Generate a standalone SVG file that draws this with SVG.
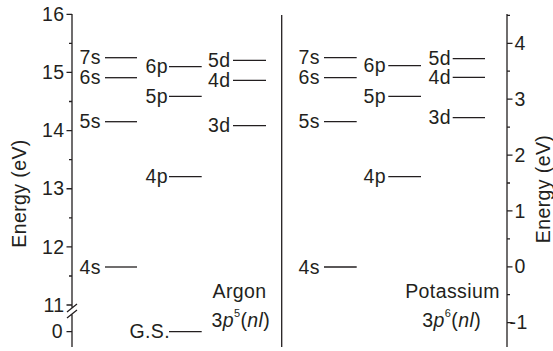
<svg xmlns="http://www.w3.org/2000/svg" width="553" height="351" viewBox="0 0 553 351">
<style>
text{font-family:"Liberation Sans",Arial,sans-serif;font-size:19.5px;letter-spacing:0.4px;fill:#231f20}
.ax{stroke:#231f20;stroke-width:1.3;fill:none}
.lv{stroke:#231f20;stroke-width:1.3}
.e{text-anchor:end}
.m{text-anchor:middle}
.i{font-style:italic}
.sup{font-size:11px}
</style>
<rect width="553" height="351" fill="#fff"/>
<g id="left-axis">
<path class="ax" d="M72,14 V308 M72,314 V347 M67,312 L77,304 M67,318 L77,310"/>
<path class="ax" d="M66.5,14.3 H72 M66.5,72.45 H72 M66.5,130.6 H72 M66.5,188.75 H72 M66.5,246.9 H72 M66.5,305 H72 M66.5,331.7 H72 M69,43.4 H72 M69,101.5 H72 M69,159.7 H72 M69,217.8 H72 M69,276 H72"/>
<text class="e" x="64.5" y="20.9">16</text>
<text class="e" x="64.5" y="79">15</text>
<text class="e" x="64.5" y="137.2">14</text>
<text class="e" x="64.5" y="195.3">13</text>
<text class="e" x="64.5" y="253.5">12</text>
<text class="e" x="64.5" y="311.6">11</text>
<text class="e" x="63" y="338.3">0</text>
<text class="m" transform="translate(25.5,193.5) rotate(-90)">Energy (eV)</text>
</g>
<g id="divider">
<path class="ax" d="M281.7,15 V347"/>
</g>
<g id="right-axis">
<path class="ax" d="M507,14 V347"/>
<path class="ax" d="M507,43.3 H512.5 M507,99.2 H512.5 M507,155.1 H512.5 M507,210.9 H512.5 M507,266.8 H512.5 M507,322.7 H512.5 M507,15.4 H510 M507,71.2 H510 M507,127.1 H510 M507,183 H510 M507,238.9 H510 M507,294.7 H510"/>
<text x="514.5" y="49.9">4</text>
<text x="514.5" y="105.8">3</text>
<text x="514.5" y="161.7">2</text>
<text x="514.5" y="217.5">1</text>
<text x="514.5" y="273.4">0</text>
<text x="509.5" y="329.3">-1</text>
<text class="m" transform="translate(549.5,189) rotate(-90)">Energy (eV)</text>
</g>
<g id="argon">
<g id="ar-7s"><line class="lv" x1="105" y1="57.7" x2="137" y2="57.7"/><text class="e" x="101" y="64.3">7s</text></g>
<g id="ar-6s"><line class="lv" x1="105" y1="77.7" x2="137" y2="77.7"/><text class="e" x="101" y="84.3">6s</text></g>
<g id="ar-5s"><line class="lv" x1="105" y1="121.7" x2="137" y2="121.7"/><text class="e" x="101" y="128.3">5s</text></g>
<g id="ar-4s"><line class="lv" x1="105" y1="267" x2="137" y2="267"/><text class="e" x="101" y="273.6">4s</text></g>
<g id="ar-6p"><line class="lv" x1="169" y1="66.7" x2="201.7" y2="66.7"/><text class="e" x="168" y="73.3">6p</text></g>
<g id="ar-5p"><line class="lv" x1="169" y1="96.3" x2="201.7" y2="96.3"/><text class="e" x="168" y="102.9">5p</text></g>
<g id="ar-4p"><line class="lv" x1="169" y1="176.7" x2="201.7" y2="176.7"/><text class="e" x="168" y="183.3">4p</text></g>
<g id="ar-gs"><line class="lv" x1="169" y1="331.7" x2="201.7" y2="331.7"/><text class="e" x="170" y="338.3">G.S.</text></g>
<g id="ar-5d"><line class="lv" x1="233" y1="60.3" x2="266" y2="60.3"/><text class="e" x="230.5" y="66.9">5d</text></g>
<g id="ar-4d"><line class="lv" x1="233" y1="80.3" x2="266" y2="80.3"/><text class="e" x="230.5" y="86.9">4d</text></g>
<g id="ar-3d"><line class="lv" x1="233" y1="125.7" x2="266" y2="125.7"/><text class="e" x="230.5" y="132.3">3d</text></g>
<g id="ar-title"><text class="m" x="239.5" y="298.3">Argon</text>
<text class="m" x="240.8" y="326.7">3<tspan class="i">p</tspan><tspan class="sup" dy="-10">5</tspan><tspan dy="10">(</tspan><tspan class="i">nl</tspan>)</text></g>
</g>
<g id="potassium">
<g id="k-7s"><line class="lv" x1="324" y1="57.7" x2="356.7" y2="57.7"/><text class="e" x="320" y="64.3">7s</text></g>
<g id="k-6s"><line class="lv" x1="324" y1="77.7" x2="356.7" y2="77.7"/><text class="e" x="320" y="84.3">6s</text></g>
<g id="k-5s"><line class="lv" x1="324" y1="121.7" x2="356.7" y2="121.7"/><text class="e" x="320" y="128.3">5s</text></g>
<g id="k-4s"><line class="lv" x1="324" y1="267" x2="356.7" y2="267"/><text class="e" x="320" y="273.6">4s</text></g>
<g id="k-6p"><line class="lv" x1="388.3" y1="65.7" x2="421" y2="65.7"/><text class="e" x="386" y="72.3">6p</text></g>
<g id="k-5p"><line class="lv" x1="388.3" y1="96.3" x2="421" y2="96.3"/><text class="e" x="386" y="102.9">5p</text></g>
<g id="k-4p"><line class="lv" x1="388.3" y1="176.7" x2="421" y2="176.7"/><text class="e" x="386" y="183.3">4p</text></g>
<g id="k-5d"><line class="lv" x1="452.7" y1="58.7" x2="485" y2="58.7"/><text class="e" x="451" y="65.3">5d</text></g>
<g id="k-4d"><line class="lv" x1="452.7" y1="77.3" x2="485" y2="77.3"/><text class="e" x="451" y="83.9">4d</text></g>
<g id="k-3d"><line class="lv" x1="452.7" y1="117.7" x2="485" y2="117.7"/><text class="e" x="451" y="124.3">3d</text></g>
<g id="k-title"><text class="m" x="452.5" y="298.3">Potassium</text>
<text class="m" x="451.7" y="326.7">3<tspan class="i">p</tspan><tspan class="sup" dy="-10">6</tspan><tspan dy="10">(</tspan><tspan class="i">nl</tspan>)</text></g>
</g>
</svg>
